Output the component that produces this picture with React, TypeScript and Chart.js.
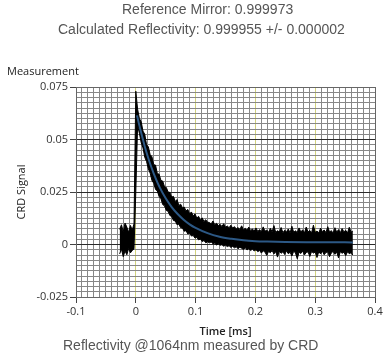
import React, { useEffect, useRef } from "react";
import { Chart, registerables } from "chart.js";

Chart.register(...registerables);

const TITLE_1 = "Reference Mirror: 0.999973";
const TITLE_2 = "Calculated Reflectivity: 0.999955 +/- 0.000002";
const PLOT_LABEL = "Measurement";
const Y_TITLE = "CRD Signal";
const X_TITLE = "Time [ms]";
const CAPTION = "Reflectivity @1064nm measured by CRD";

const X_MIN = -0.1;
const X_MAX = 0.4;
const X_MAJOR = 0.1;
const X_MINOR = 0.01;
const Y_MIN = -0.025;
const Y_MAX = 0.075;
const Y_MAJOR = 0.025;
const Y_MINOR = 0.0025;

// measured trace: sampled every TRACE_DT ms starting at TRACE_T0, upper / lower envelope of the noisy signal
const TRACE_T0 = -0.027;
const TRACE_DT = 0.003;
const TRACE_UPPER = [
  0.0072, 0.0094, 0.0061, 0.0102, 0.0083, 0.0058, 0.0091, 0.0069, 0.0098,
  0.073,
  0.0645, 0.06, 0.0585, 0.054, 0.0525, 0.0475, 0.0465, 0.0428, 0.0418, 0.038,
  0.0378, 0.0338, 0.0335, 0.0305, 0.0302, 0.0275, 0.0272, 0.025, 0.0248, 0.0226,
  0.0229, 0.0205, 0.0214, 0.0186, 0.0192, 0.0175, 0.0178, 0.016, 0.0167, 0.0146,
  0.0155, 0.0136, 0.0146, 0.0126, 0.0134, 0.0117, 0.0127, 0.011, 0.0118, 0.0106,
  0.0105, 0.0098, 0.0112, 0.0094, 0.0101, 0.009, 0.0096, 0.0086, 0.0099, 0.0082,
  0.0088, 0.008, 0.0092, 0.0078, 0.0085, 0.0074, 0.0081, 0.0072, 0.0089, 0.007,
  0.0077, 0.0068, 0.0083, 0.0066, 0.0074, 0.0064, 0.0079, 0.0062,
  0.0071, 0.006, 0.0084, 0.0063, 0.0069, 0.0058, 0.0077, 0.0061, 0.009, 0.0057,
  0.0066, 0.0059, 0.0081, 0.0056, 0.0068, 0.006, 0.0074, 0.0055, 0.0087, 0.0058,
  0.0065, 0.0057, 0.0079, 0.0059, 0.007, 0.0055, 0.0083, 0.006, 0.0067, 0.0056,
  0.0092, 0.0058, 0.0064, 0.0055, 0.0078, 0.0061, 0.0069, 0.0057, 0.0085, 0.0059,
  0.0066, 0.0054, 0.008, 0.0058, 0.0071, 0.0056, 0.0076, 0.006, 0.0068, 0.0055,
  0.0082, 0.0059, 0.0064,
];
const TRACE_LOWER = [
  -0.0045, -0.0022, -0.0058, -0.0031, -0.0049, -0.0019, -0.004, -0.0028, -0.0021,
  0.025,
  0.0565, 0.053, 0.0485, 0.046, 0.0415, 0.0395, 0.036, 0.034, 0.0305, 0.0292,
  0.0262, 0.0255, 0.0228, 0.0218, 0.019, 0.0184, 0.0162, 0.0158, 0.0138, 0.0133,
  0.0114, 0.0112, 0.0094, 0.0097, 0.008, 0.0078, 0.0063, 0.0066, 0.005, 0.0053,
  0.004, 0.0043, 0.003, 0.0034, 0.0022, 0.0026, 0.0014, 0.0019, 0.0008, 0.0013,
  0.0008, 0.0012, 0.0004, 0.0006, -0.0002, 0.0003, -0.0004, -0.0001, -0.0008, -0.0003,
  -0.001, -0.0006, -0.0014, -0.0009, -0.0016, -0.0011, -0.002, -0.0013, -0.0018, -0.0024,
  -0.0015, -0.0026, -0.002, -0.0029, -0.0022, -0.0031, -0.0025, -0.0034,
  -0.0028, -0.0041, -0.003, -0.0036, -0.0052, -0.0033, -0.0039, -0.0029, -0.0045, -0.0034,
  -0.006, -0.0031, -0.0042, -0.0035, -0.0048, -0.003, -0.0044, -0.0037, -0.0055, -0.0032,
  -0.004, -0.0068, -0.0036, -0.0043, -0.0031, -0.005, -0.0038, -0.0035, -0.0057, -0.0033,
  -0.0041, -0.0036, -0.0062, -0.0034, -0.0045, -0.0032, -0.0049, -0.0038, -0.0035, -0.0058,
  -0.004, -0.0033, -0.0047, -0.0036, -0.0064, -0.0034, -0.0042, -0.0037, -0.0053, -0.0035,
  -0.0044, -0.0039, -0.005,
];

// fitted ring-down curve
const FIT_T = [0.002, 0.005, 0.01, 0.015, 0.02, 0.025, 0.03, 0.04, 0.05, 0.06, 0.07, 0.08, 0.09, 0.1, 0.12, 0.14, 0.16, 0.18, 0.2, 0.22, 0.25, 0.3, 0.363];
const FIT_V = [0.0615, 0.0578, 0.0521, 0.0467, 0.0419, 0.0376, 0.0338, 0.0272, 0.022, 0.0178, 0.0145, 0.0118, 0.0096, 0.0079, 0.0054, 0.0037, 0.0027, 0.002, 0.0016, 0.0014, 0.0012, 0.0011, 0.001];

const TICK_FONT = { family: '"Open Sans", sans-serif', size: 11 };
const TEXT_FONT = '"Liberation Sans", Arial, sans-serif';

const isMajor = (v: number, step: number) => Math.abs(v / step - Math.round(v / step)) < 1e-6;

export default function App() {
  const ref = useRef<HTMLCanvasElement>(null);

  useEffect(() => {
    const canvas = ref.current;
    if (!canvas) return;
    const n = Math.min(TRACE_UPPER.length, TRACE_LOWER.length);
    const upper: { x: number; y: number }[] = [];
    const lower: { x: number; y: number }[] = [];
    for (let i = 0; i < n; i++) {
      const t = Number((TRACE_T0 + i * TRACE_DT).toFixed(4));
      upper.push({ x: t, y: TRACE_UPPER[i] });
      lower.push({ x: t, y: TRACE_LOWER[i] });
    }
    const fit = FIT_T.map((t, i) => ({ x: t, y: FIT_V[i] }));

    const chart = new Chart(canvas, {
      type: "line",
      data: {
        datasets: [
          {
            label: "fit",
            data: fit,
            borderColor: "#2c5885",
            borderWidth: 2,
            pointRadius: 0,
            fill: false,
            cubicInterpolationMode: "monotone",
          },
          {
            label: "upper",
            data: upper,
            borderColor: "#000",
            backgroundColor: "#000",
            borderWidth: 1,
            pointRadius: 0,
            fill: "+1",
          },
          {
            label: "lower",
            data: lower,
            borderColor: "#000",
            borderWidth: 1,
            pointRadius: 0,
            fill: false,
          },
        ],
      },
      options: {
        animation: false,
        responsive: false,
        devicePixelRatio: 1,
        layout: { padding: { left: 0, top: 87, right: 12, bottom: 17 } },
        plugins: { legend: { display: false }, tooltip: { enabled: false } },
        scales: {
          x: {
            type: "linear",
            min: X_MIN,
            max: X_MAX,
            afterFit: (s: any) => {
              s.height = 41;
            },
            ticks: {
              stepSize: X_MINOR,
              autoSkip: false,
              maxRotation: 0,
              padding: 2,
              color: "#333",
              font: TICK_FONT,
              callback: (v: any) => (isMajor(Number(v), X_MAJOR) ? String(Math.round(Number(v) * 10) / 10) : ""),
            },
            grid: {
              lineWidth: 1,
              tickLength: 6,
              color: (c: any) => {
                const v = c.tick ? c.tick.value : 0;
                if (isMajor(v, X_MAJOR)) {
                  if (Math.abs(v - X_MIN) < 1e-6 || Math.abs(v - X_MAX) < 1e-6) return "#666";
                  return "#d2d27c";
                }
                return "#878787";
              },
              tickColor: (c: any) => (c.tick && isMajor(c.tick.value, X_MAJOR) ? "#444" : "rgba(0,0,0,0)"),
            },
            border: { display: true, color: "#666" },
            title: {
              display: true,
              text: X_TITLE,
              color: "#222",
              padding: { top: 0, bottom: 0 },
              font: { family: '"Open Sans", sans-serif', size: 11, weight: "600" },
            },
          },
          y: {
            type: "linear",
            min: Y_MIN,
            max: Y_MAX,
            afterFit: (s: any) => {
              s.width = 76;
            },
            ticks: {
              stepSize: Y_MINOR,
              autoSkip: false,
              padding: 2,
              color: "#333",
              font: TICK_FONT,
              callback: (v: any) => (isMajor(Number(v), Y_MAJOR) ? String(Math.round(Number(v) * 1000) / 1000) : ""),
            },
            grid: {
              lineWidth: 1,
              tickLength: 6,
              color: (c: any) => {
                const v = c.tick ? c.tick.value : 0;
                if (isMajor(v, Y_MAJOR)) {
                  if (Math.abs(v - Y_MIN) < 1e-6 || Math.abs(v - Y_MAX) < 1e-6) return "#666";
                  return "#2b2b2b";
                }
                return "#878787";
              },
              tickColor: (c: any) => (c.tick && isMajor(c.tick.value, Y_MAJOR) ? "#444" : "rgba(0,0,0,0)"),
            },
            border: { display: true, color: "#666" },
            title: {
              display: true,
              text: Y_TITLE,
              color: "#222",
              padding: { top: 15, bottom: 0 },
              font: { family: '"Open Sans", sans-serif', size: 11 },
            },
          },
        },
      },
    } as any);

    return () => chart.destroy();
  }, []);

  const textStyle: React.CSSProperties = {
    position: "absolute",
    fontFamily: TEXT_FONT,
    fontSize: 14,
    lineHeight: "16px",
    color: "#555",
    whiteSpace: "nowrap",
  };

  return (
    <div style={{ position: "fixed", left: 0, top: 0, width: 387, height: 355, background: "#fff", overflow: "hidden" }}>
      <canvas ref={ref} width={387} height={355} style={{ position: "absolute", left: 0, top: 0, width: 387, height: 355 }} />
      <div style={{ ...textStyle, left: 122, top: 1 }}>{TITLE_1}</div>
      <div style={{ ...textStyle, left: 58, top: 21 }}>{TITLE_2}</div>
      <div
        style={{
          position: "absolute",
          left: 7,
          top: 64,
          fontFamily: '"Open Sans", sans-serif',
          fontSize: 11,
          lineHeight: "13px",
          color: "#222",
          whiteSpace: "nowrap",
        }}
      >
        {PLOT_LABEL}
      </div>
      <div style={{ ...textStyle, left: 63, top: 337 }}>{CAPTION}</div>
    </div>
  );
}
